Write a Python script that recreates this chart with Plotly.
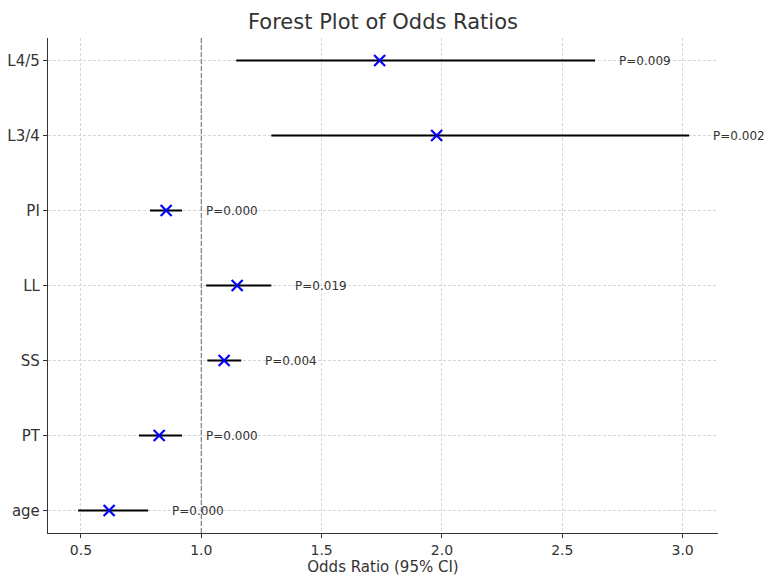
import plotly.graph_objects as go

labels = ["age", "PT", "SS", "LL", "PI", "L3/4", "L4/5"]
odds = [0.617, 0.825, 1.095, 1.149, 0.854, 1.978, 1.741]
lower = [0.488, 0.741, 1.025, 1.020, 0.787, 1.291, 1.145]
upper = [0.779, 0.920, 1.166, 1.291, 0.920, 3.027, 2.636]
pvals = ["P=0.000", "P=0.000", "P=0.004", "P=0.019", "P=0.000", "P=0.002", "P=0.009"]
xticks = [0.5, 1.0, 1.5, 2.0, 2.5, 3.0]

ypos = list(range(len(labels)))

fig = go.Figure()

# CI lines
lx, ly = [], []
for y, lo, hi in zip(ypos, lower, upper):
    lx += [lo, hi, None]
    ly += [y, y, None]
fig.add_trace(go.Scatter(x=lx, y=ly, mode="lines",
                         line=dict(color="black", width=2), showlegend=False,
                         hoverinfo="skip"))

# OR markers
fig.add_trace(go.Scatter(x=odds, y=ypos, mode="markers",
                         marker=dict(symbol="x-thin", size=11, color="blue",
                                     line=dict(color="blue", width=2.2)),
                         showlegend=False))

# reference line
fig.add_shape(type="line", x0=1, x1=1, y0=0, y1=1, yref="paper", xref="x",
              line=dict(color="gray", width=1.2, dash="5px,2px"), layer="above")

for y, hi, p in zip(ypos, upper, pvals):
    fig.add_annotation(x=hi + 0.1, y=y, text=p, showarrow=False,
                       xanchor="left", yanchor="middle", xshift=-2,
                       font=dict(family="DejaVu Sans", size=12, color="#333333"))

grid = "rgba(200,200,200,0.75)"
fig.update_layout(
    width=766, height=576,
    margin=dict(l=48, r=48, t=38, b=43),
    paper_bgcolor="white", plot_bgcolor="white",
    title=dict(text="Forest Plot of Odds Ratios", x=0.5, xanchor="center",
               y=0.962, yanchor="middle",
               font=dict(family="DejaVu Sans", size=21, color="#333333")),
    font=dict(family="DejaVu Sans", color="#333333"),
    xaxis=dict(range=[0.363, 3.147], tickvals=xticks,
               ticktext=[f"{v:.1f}" for v in xticks], automargin=False,
               showgrid=True, gridcolor=grid, griddash="3px,2px", gridwidth=1,
               showline=True, linecolor="#333333", linewidth=1.3,
               ticks="outside", ticklen=4, tickcolor="#333333",
               tickfont=dict(size=14, color="#333333"),
               title=dict(text="Odds Ratio (95% CI)", standoff=3,
                          font=dict(size=15, color="#333333")),
               zeroline=False, mirror=False),
    yaxis=dict(range=[-0.3, 6.3], tickvals=ypos, ticktext=labels,
               automargin=False,
               showgrid=True, gridcolor=grid, griddash="3px,2px", gridwidth=1,
               showline=True, linecolor="#333333", linewidth=1.3,
               ticks="outside", ticklen=4, tickcolor="#333333",
               tickfont=dict(size=15, color="#333333"),
               zeroline=False, mirror=False),
)

fig.write_html("out.html")
